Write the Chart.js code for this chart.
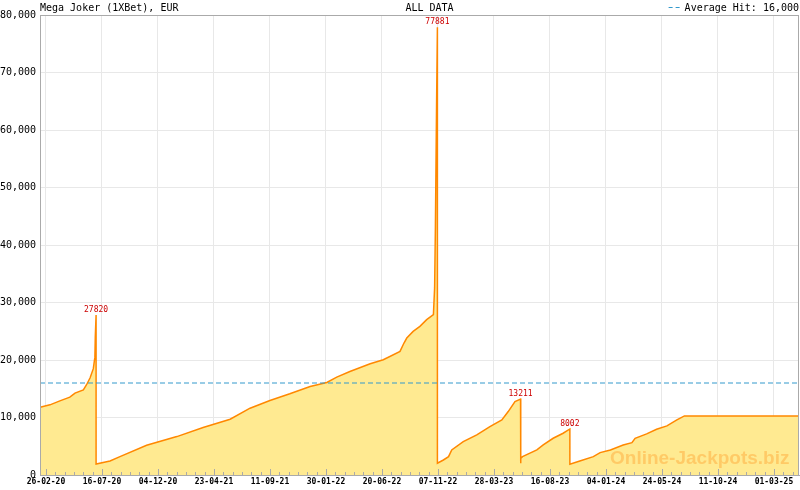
<!DOCTYPE html>
<html>
<head>
<meta charset="utf-8">
<script src="https://cdn.jsdelivr.net/npm/chart.js@4.4.1/dist/chart.umd.min.js"></script>
<style>
  html, body { margin: 0; padding: 0; background: #fff; }
  #wrap { width: 800px; height: 490px; }
</style>
</head>
<body>
<div id="wrap"><canvas id="chart" width="800" height="490"></canvas></div>
<script>
// Jackpot history
const dates = [
  '2020-02-11', '2020-03-07', '2020-04-01', '2020-04-26', '2020-05-09', '2020-05-30',
  '2020-06-07', '2020-06-16', '2020-06-24', '2020-06-28', '2020-06-29', '2020-07-01',
  '2020-07-01', '2020-08-05', '2020-08-30', '2020-11-05', '2021-01-20', '2021-03-27',
  '2021-06-03', '2021-07-23', '2021-09-11', '2021-10-31', '2021-12-21', '2022-02-01',
  '2022-02-26', '2022-03-31', '2022-05-21', '2022-06-23', '2022-08-04', '2022-08-14',
  '2022-08-21', '2022-09-06', '2022-09-23', '2022-10-10', '2022-10-27', '2022-10-30',
  '2022-11-01', '2022-11-04', '2022-11-06',
  '2022-11-06', '2022-11-21', '2022-12-04', '2022-12-12', '2023-01-10', '2023-02-13',
  '2023-03-18', '2023-04-17', '2023-05-03', '2023-05-20', '2023-06-03',
  '2023-06-03', '2023-06-04', '2023-06-08', '2023-07-14', '2023-07-30', '2023-08-24',
  '2023-09-18', '2023-10-05',
  '2023-10-05', '2023-10-30', '2023-12-03', '2023-12-20', '2024-01-15', '2024-02-16',
  '2024-03-09', '2024-03-17', '2024-04-15', '2024-05-10', '2024-06-05', '2024-06-30',
  '2024-07-19', '2025-05-10'
];
const values = [
  11800, 12200, 12900, 13540, 14240, 14810,
  15700, 16900, 18500, 20500, 24100, 27820,
  1920, 2440, 3190, 5170, 6680, 8250,
  9700, 11620, 12960, 14120, 15400, 16090,
  17020, 18010, 19350, 20040, 21490, 22950,
  23820, 24980, 25850, 27010, 27890, 32540,
  43280, 65060, 77881,
  2040, 2610, 3190, 4360, 5810, 6970,
  8420, 9590, 11030, 12780, 13211,
  2040, 2900, 3190, 4360, 5230, 6390,
  7260, 8002,
  1860, 2440, 3190, 3890, 4360, 5230,
  5630, 6390, 7150, 7960, 8540, 9590,
  10280, 10280
];
const tickLabels = [
  '26-02-20', '16-07-20', '04-12-20', '23-04-21', '11-09-21', '30-01-22', '20-06-22',
  '07-11-22', '28-03-23', '16-08-23', '04-01-24', '24-05-24', '11-10-24', '01-03-25'
];
const averageHit = 16000;

const titleText = 'Mega Joker (1XBet), EUR';
const rangeText = 'ALL DATA';
const legendText = 'Average Hit: 16,000';
const watermark = 'Online-Jackpots.biz';

const MONO = '"DejaVu Sans Mono", "Liberation Mono", monospace';
const DAY = 86400000;
const origin = Date.UTC(2020, 1, 26);
const toDay = s => {
  const [y, m, d] = s.split('-').map(Number);
  return (Date.UTC(y, m - 1, d) - origin) / DAY;
};
// labels are spaced evenly from the first to the last tick date
const lastMajor = toDay('2025-03-01');
const minorStep = lastMajor / (tickLabels.length - 1) / 6;
const xMin = -15, xMax = 1893;

const points = dates.map((d, i) => ({x: toDay(d), y: values[i]}));

// Draws header texts, axis box, inner tick marks, peak labels and watermark
const decorations = {
  id: 'decorations',
  afterDatasetsDraw(chart) {
    const {ctx, chartArea: a, scales} = chart;
    ctx.save();

    // watermark
    ctx.font = 'bold 19px "Liberation Sans", Arial, sans-serif';
    ctx.fillStyle = 'rgba(255,165,50,0.45)';
    ctx.textAlign = 'left';
    ctx.textBaseline = 'alphabetic';
    ctx.fillText(watermark, 610, 464);

    // tick marks pointing into the plot
    ctx.strokeStyle = '#aaaaaa';
    ctx.lineWidth = 1;
    scales.x.ticks.forEach((t, i) => {
      const px = Math.round(scales.x.getPixelForValue(t.value)) + 0.5;
      const len = i % 6 === 0 ? 6 : 3;
      ctx.beginPath();
      ctx.moveTo(px, a.bottom);
      ctx.lineTo(px, a.bottom - len);
      ctx.stroke();
    });

    // box around the plot
    ctx.strokeRect(a.left + 0.5, a.top + 0.5, a.right - a.left - 1, a.bottom - a.top);

    // peak labels, one before each reset
    ctx.font = '8px ' + MONO;
    ctx.fillStyle = '#cc0000';
    ctx.textAlign = 'center';
    ctx.textBaseline = 'bottom';
    for (let i = 0; i < dates.length - 1; i++) {
      if (dates[i] === dates[i + 1] && values[i + 1] < values[i]) {
        const px = scales.x.getPixelForValue(toDay(dates[i]));
        const py = scales.y.getPixelForValue(values[i]);
        ctx.fillText(String(values[i]), px, py - 1);
      }
    }

    // header
    ctx.font = '10px ' + MONO;
    ctx.fillStyle = '#000';
    ctx.textBaseline = 'alphabetic';
    ctx.textAlign = 'left';
    ctx.fillText(titleText, a.left, 11);
    ctx.textAlign = 'center';
    ctx.fillText(rangeText, 429.5, 11);
    ctx.textAlign = 'right';
    ctx.fillText(legendText, a.right, 11);
    const lw = ctx.measureText(legendText).width;
    ctx.strokeStyle = '#3399cc';
    ctx.setLineDash([4, 3]);
    ctx.beginPath();
    ctx.moveTo(a.right - lw - 16, 7.5);
    ctx.lineTo(a.right - lw - 2, 7.5);
    ctx.stroke();

    ctx.restore();
  }
};

new Chart(document.getElementById('chart'), {
  type: 'line',
  data: {
    datasets: [
      {
        label: 'Average Hit',
        data: [{x: xMin, y: averageHit}, {x: xMax, y: averageHit}],
        borderColor: '#3399cc',
        borderWidth: 1,
        borderDash: [5, 3],
        pointRadius: 0,
        fill: false,
        order: 0
      },
      {
        label: 'Jackpot',
        data: points,
        borderColor: '#ff8800',
        borderWidth: 1.5,
        backgroundColor: '#ffea91',
        fill: 'origin',
        pointRadius: 0,
        tension: 0,
        order: 1
      }
    ]
  },
  options: {
    responsive: false,
    animation: false,
    devicePixelRatio: 1,
    layout: {padding: {top: 15, right: 1, left: 0, bottom: 0}},
    plugins: {
      legend: {display: false},
      tooltip: {enabled: false}
    },
    scales: {
      x: {
        type: 'linear',
        min: xMin,
        max: xMax,
        afterBuildTicks: scale => {
          const ticks = [];
          for (let k = 0; k * minorStep <= xMax; k++) ticks.push({value: k * minorStep});
          scale.ticks = ticks;
        },
        afterFit: scale => { scale.height = 15; },
        grid: {
          drawTicks: false,
          color: ctx => (ctx.index % 6 === 0 ? '#e8e8e8' : 'rgba(0,0,0,0)'),
          lineWidth: 1
        },
        border: {display: true, color: '#aaaaaa'},
        ticks: {
          autoSkip: false,
          maxRotation: 0,
          padding: 2,
          color: '#000',
          font: {family: MONO, size: 8, weight: 'bold'},
          callback: (v, i) => (i % 6 === 0 ? (tickLabels[i / 6] || '') : '')
        }
      },
      y: {
        min: 0,
        max: 80000,
        afterFit: scale => { scale.width = 40; },
        grid: {drawTicks: false, color: '#e8e8e8'},
        border: {display: true, color: '#aaaaaa'},
        ticks: {
          stepSize: 10000,
          padding: 4,
          color: '#000',
          font: {family: MONO, size: 10},
          callback: v => v.toLocaleString('en-US')
        }
      }
    }
  },
  plugins: [decorations]
});
</script>
</body>
</html>
